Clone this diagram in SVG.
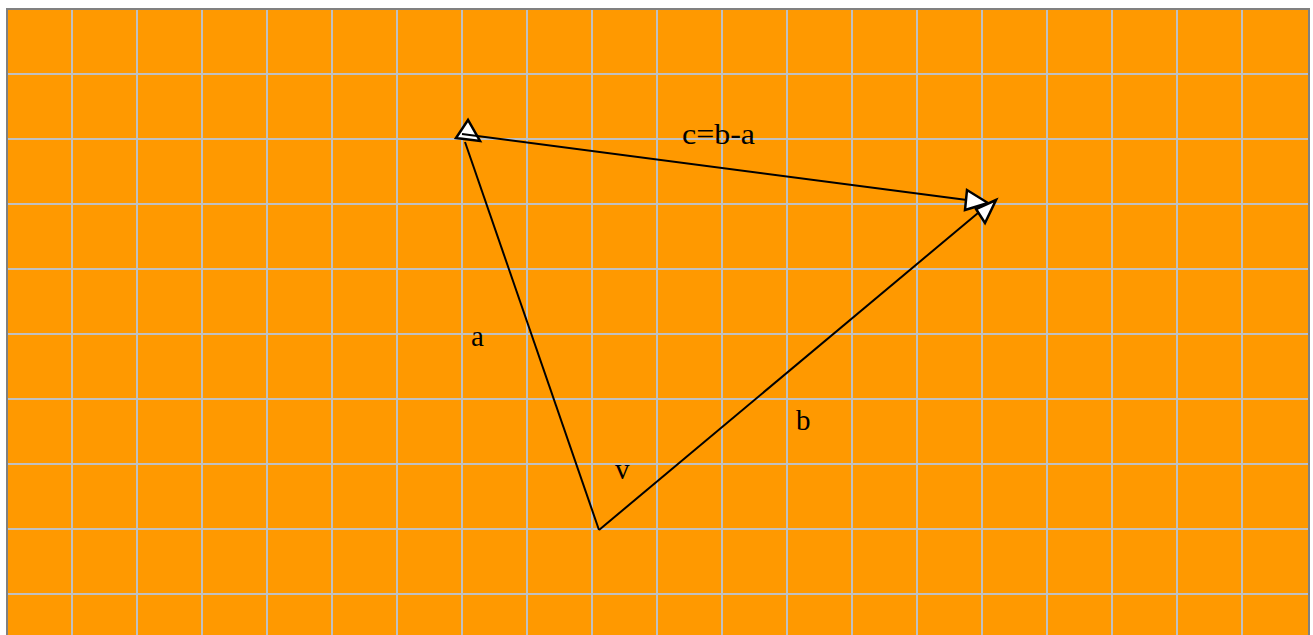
<svg xmlns="http://www.w3.org/2000/svg" width="1313" height="635" viewBox="0 0 1313 635">
<style>
.grid line{stroke:#c0c0c0;stroke-width:2}
.vec{stroke:#000;stroke-width:2;fill:none}
.head{fill:#fff;stroke:#000;stroke-width:2.5;stroke-linejoin:miter}
.lbl{font-family:"Liberation Serif","Times New Roman",serif;font-size:29px;fill:#000}
</style>
<rect x="0" y="0" width="1313" height="635" fill="#fff"/>
<rect x="7" y="9" width="1302" height="640" fill="#ff9900"/>
<g class="grid">
<line x1="72" y1="9" x2="72" y2="635"/><line x1="137" y1="9" x2="137" y2="635"/><line x1="202" y1="9" x2="202" y2="635"/><line x1="267" y1="9" x2="267" y2="635"/><line x1="332" y1="9" x2="332" y2="635"/><line x1="397" y1="9" x2="397" y2="635"/><line x1="462" y1="9" x2="462" y2="635"/><line x1="527" y1="9" x2="527" y2="635"/><line x1="592" y1="9" x2="592" y2="635"/><line x1="657" y1="9" x2="657" y2="635"/><line x1="722" y1="9" x2="722" y2="635"/><line x1="787" y1="9" x2="787" y2="635"/><line x1="852" y1="9" x2="852" y2="635"/><line x1="917" y1="9" x2="917" y2="635"/><line x1="982" y1="9" x2="982" y2="635"/><line x1="1047" y1="9" x2="1047" y2="635"/><line x1="1112" y1="9" x2="1112" y2="635"/><line x1="1177" y1="9" x2="1177" y2="635"/><line x1="1242" y1="9" x2="1242" y2="635"/>
<line x1="7" y1="74" x2="1309" y2="74"/><line x1="7" y1="139" x2="1309" y2="139"/><line x1="7" y1="204" x2="1309" y2="204"/><line x1="7" y1="269" x2="1309" y2="269"/><line x1="7" y1="334" x2="1309" y2="334"/><line x1="7" y1="399" x2="1309" y2="399"/><line x1="7" y1="464" x2="1309" y2="464"/><line x1="7" y1="529" x2="1309" y2="529"/><line x1="7" y1="594" x2="1309" y2="594"/>
</g>
<rect x="7" y="9" width="1302" height="640" fill="none" stroke="#808080" stroke-width="2"/>
<g id="connectors">
<g id="vec-a"><line class="vec" x1="599" y1="530" x2="465" y2="142"/><polygon class="head" points="468,120 456,138 480,141"/></g>
<g id="vec-c"><line class="vec" x1="462" y1="134" x2="967" y2="200"/><polygon class="head" points="967,190 965,210 988,203"/></g>
<g id="vec-b"><line class="vec" x1="599" y1="530" x2="978" y2="213"/><polygon class="head" points="996,200 976,209 985,223"/></g>
</g>
<g id="label-c"><text class="lbl" x="682" y="144" textLength="73" lengthAdjust="spacingAndGlyphs">c=b-a</text></g>
<g id="label-a"><text class="lbl" x="471" y="346">a</text></g>
<g id="label-b"><text class="lbl" x="796" y="430">b</text></g>
<g id="label-v"><text class="lbl" x="615" y="479">v</text></g>
</svg>
